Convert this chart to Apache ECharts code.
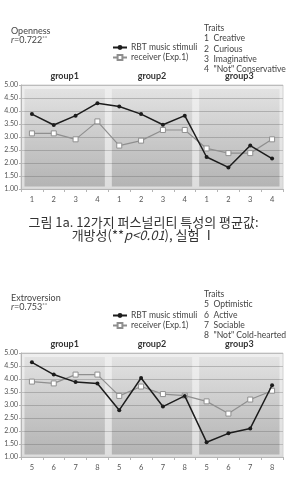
<!DOCTYPE html>
<html>
<head>
<meta charset="utf-8">
<script src="https://cdn.jsdelivr.net/npm/echarts@6/dist/echarts.min.js"></script>
<style>
  html, body { margin: 0; padding: 0; background: #fff; }
  #chart { width: 287px; height: 486px; }
</style>
</head>
<body>
<div id="chart"></div>
<script>
// ── data ─────────────────────────────────────────────
const groups = ['group1', 'group2', 'group3'];

const openTraitIds = ['1', '2', '3', '4', '1', '2', '3', '4', '1', '2', '3', '4'];
const openTraitNames = ['Creative', 'Curious', 'Imaginative', '"Not" Conservative'];
const openRbt      = [3.88, 3.46, 3.82, 4.30, 4.17, 3.88, 3.47, 3.82, 2.23, 1.83, 2.67, 2.17];
const openReceiver = [3.14, 3.14, 2.91, 3.60, 2.67, 2.86, 3.27, 3.27, 2.56, 2.38, 2.38, 2.91];

const extroTraitIds = ['5', '6', '7', '8', '5', '6', '7', '8', '5', '6', '7', '8'];
const extroTraitNames = ['Optimistic', 'Active', 'Sociable', '"Not" Cold-hearted'];
const extroRbt      = [4.64, 4.17, 3.88, 3.83, 2.80, 4.04, 2.94, 3.35, 1.57, 1.91, 2.10, 3.76];
const extroReceiver = [3.90, 3.83, 4.17, 4.17, 3.35, 3.71, 3.42, 3.36, 3.14, 2.67, 3.21, 3.55];

const SERIES_RBT = 'RBT music stimuli';
const SERIES_RCV = 'receiver (Exp.1)';

// ── look ─────────────────────────────────────────────
const FONT = 'Lato, "Noto Sans", sans-serif';
const KR_FONT = '"Noto Sans CJK KR", sans-serif';
const PANEL_LOW = 1.1, PANEL_HIGH = 4.85;   // shaded group panels (value range)

const grad = (a, b) => new echarts.graphic.LinearGradient(0, 0, 0, 1, [
  { offset: 0, color: a }, { offset: 1, color: b }]);

function block(gi, top, traitIds, rbt, rcv) {
  const xi = gi * 2;
  return {
    grid: {
      left: 21, top: top, width: 262, height: 104, show: true,
      backgroundColor: grad('#efefef', '#dddddd'),
      borderColor: '#d2d2d2', borderWidth: 1,
    },
    xAxis: [
      { gridIndex: gi, type: 'category', data: traitIds, boundaryGap: true,
        axisLine: { lineStyle: { color: '#b5b5b5' } },
        axisTick: { show: true, length: 3, lineStyle: { color: '#b5b5b5' } },
        axisLabel: { color: '#555', fontSize: 7.5, margin: 7, fontFamily: FONT } },
      { gridIndex: gi, type: 'category', data: groups, position: 'top',
        axisLine: { show: false }, axisTick: { show: false },
        axisLabel: { color: '#333', fontSize: 9, fontWeight: 'bold', margin: 4, fontFamily: FONT } },
    ],
    yAxis: {
      gridIndex: gi, type: 'value', min: 1, max: 5, interval: 0.5,
      axisLine: { show: true, lineStyle: { color: '#b5b5b5' } },
      axisTick: { show: true, length: 2, lineStyle: { color: '#b5b5b5' } },
      axisLabel: { color: '#555', fontSize: 7, margin: 3, fontFamily: FONT,
        formatter: (v) => v.toFixed(2) },
      splitLine: { lineStyle: { color: '#b3b3b3', width: 0.8 } },
    },
    series: [
      { type: 'bar', xAxisIndex: xi + 1, yAxisIndex: gi, stack: 'panel' + gi,
        barWidth: '92%', silent: true, itemStyle: { color: 'transparent' },
        data: groups.map(() => PANEL_LOW) },
      { type: 'bar', xAxisIndex: xi + 1, yAxisIndex: gi, stack: 'panel' + gi,
        barWidth: '92%', silent: true,
        itemStyle: { color: grad('rgba(0,0,0,0.05)', 'rgba(0,0,0,0.19)') },
        data: groups.map(() => PANEL_HIGH - PANEL_LOW) },
      { name: SERIES_RCV, type: 'line', xAxisIndex: xi, yAxisIndex: gi, data: rcv, z: 4,
        symbol: 'rect', symbolSize: 5,
        lineStyle: { color: '#8f8f8f', width: 1.2 },
        itemStyle: { color: '#fff', borderColor: '#8f8f8f', borderWidth: 1 } },
      { name: SERIES_RBT, type: 'line', xAxisIndex: xi, yAxisIndex: gi, data: rbt, z: 5,
        symbol: 'circle', symbolSize: 4,
        lineStyle: { color: '#1c1c1c', width: 1.5 },
        itemStyle: { color: '#1c1c1c' } },
    ],
  };
}

function heading(name, r, left, top) {
  return {
    text: name + '\n{it|r}=' + r + '{sup|**}', left: left, top: top,
    textStyle: { fontSize: 9, fontWeight: 'normal', color: '#444', lineHeight: 9.5, fontFamily: FONT,
      rich: {
        it: { fontStyle: 'italic', fontSize: 9, color: '#444', fontFamily: FONT },
        sup: { fontSize: 6, color: '#444', verticalAlign: 'top', fontFamily: FONT },
      } },
  };
}

function traitList(ids, names, top) {
  const rows = names.map((n, i) => '{n|' + ids[i] + '}' + n);
  return {
    text: ['Traits'].concat(rows).join('\n'), left: 199, top: top,
    textStyle: { fontSize: 8.6, fontWeight: 'normal', color: '#444', lineHeight: 10.3, fontFamily: FONT,
      rich: { n: { width: 9.5, fontSize: 8.6, color: '#444', fontFamily: FONT } } },
  };
}

function legend(top) {
  return {
    top: top, left: 107, orient: 'vertical', itemGap: 1,
    itemWidth: 14, itemHeight: 6, selectedMode: false,
    data: [SERIES_RBT, SERIES_RCV],
    textStyle: { fontSize: 8.5, color: '#444', fontFamily: FONT, padding: [0, 0, 0, -1] },
  };
}

const b1 = block(0, 85, openTraitIds, openRbt, openReceiver);
const b2 = block(1, 353, extroTraitIds, extroRbt, extroReceiver);

const chart = echarts.init(document.getElementById('chart'), null, { renderer: 'canvas' });
chart.setOption({
  backgroundColor: '#fff',
  animation: false,
  title: [
    heading('Openness', '0.722', 6, 21),
    traitList(openTraitIds, openTraitNames, 18),
    heading('Extroversion', '0.753', 6, 288),
    traitList(extroTraitIds, extroTraitNames, 284),
    {
      text: '그림 1a. 12가지 퍼스널리티 특성의 평균값:\n개방성(**{it|p<0.01}), 실험 Ⅰ',
      left: 'center', top: 210,
      textStyle: { fontSize: 13, fontWeight: 'normal', color: '#333', lineHeight: 13.5, fontFamily: KR_FONT,
        align: 'center',
        rich: { it: { fontStyle: 'italic', fontSize: 13, color: '#333', fontFamily: KR_FONT } } },
    },
  ],
  legend: [legend(38), legend(306)],
  grid: [b1.grid, b2.grid],
  xAxis: b1.xAxis.concat(b2.xAxis),
  yAxis: [b1.yAxis, b2.yAxis],
  series: b1.series.concat(b2.series),
});
</script>
</body>
</html>
